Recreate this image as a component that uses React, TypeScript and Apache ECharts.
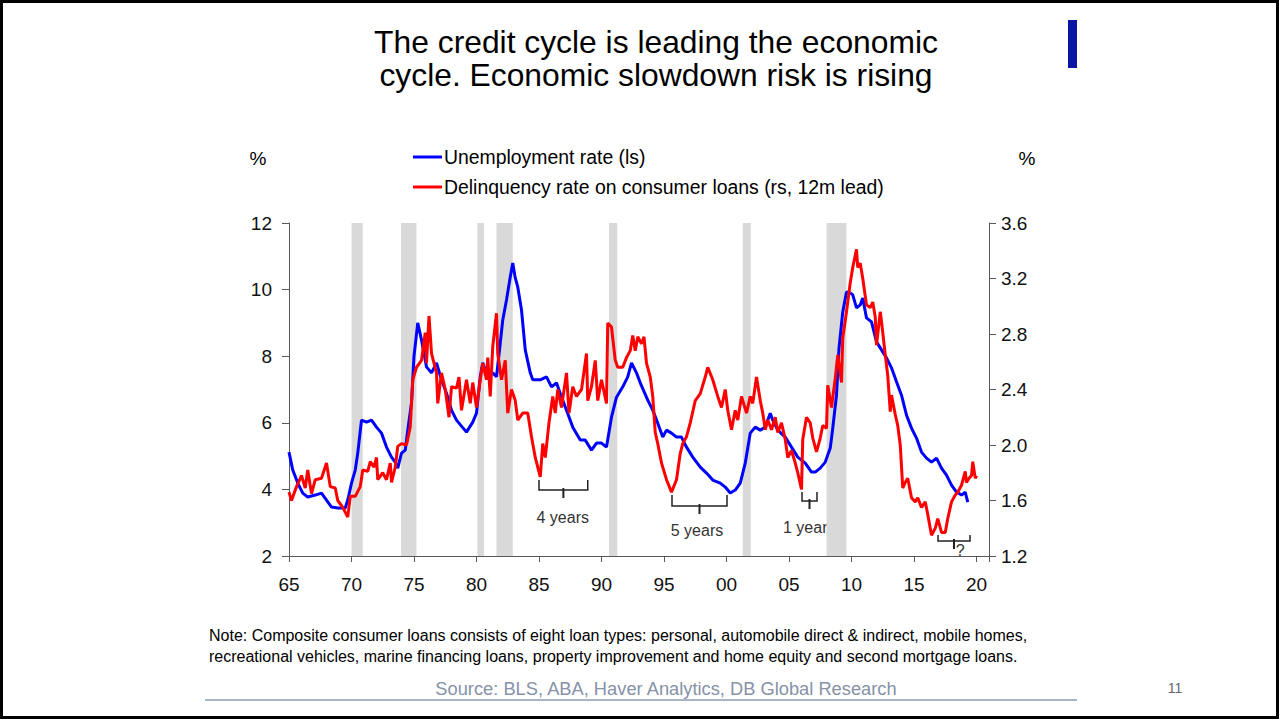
import React, { useEffect, useRef } from "react";
import * as echarts from "echarts";

const FONT = "'Liberation Sans', Arial, Helvetica, sans-serif";

// Unemployment rate (left scale, %)
const unemploymentYears = [
  1965.0, 1965.3, 1965.7, 1966.1, 1966.5, 1967.1, 1967.6, 1968.0, 1968.4, 1968.9, 1969.5, 1969.7,
  1970.0, 1970.3, 1970.5, 1970.8, 1971.2, 1971.6, 1972.0, 1972.4, 1972.8, 1973.2, 1973.5, 1973.7,
  1974.0, 1974.3, 1974.5, 1974.8, 1975.0, 1975.3, 1975.6, 1976.0, 1976.4, 1976.8, 1977.2, 1977.6,
  1978.0, 1978.4, 1978.8, 1979.2, 1979.7, 1980.0, 1980.3, 1980.5, 1980.9, 1981.3, 1981.6, 1981.9,
  1982.1, 1982.4, 1982.7, 1982.9, 1983.1, 1983.3, 1983.6, 1983.9, 1984.3, 1984.5, 1985.1, 1985.6,
  1986.0, 1986.4, 1986.8, 1987.2, 1987.7, 1988.3, 1988.7, 1989.2, 1989.6, 1990.0, 1990.4, 1990.8,
  1991.2, 1991.7, 1992.1, 1992.4, 1992.8, 1993.1, 1993.7, 1994.1, 1994.5, 1994.9, 1995.2, 1995.6,
  1996.0, 1996.4, 1996.8, 1997.3, 1997.9, 1998.4, 1998.9, 1999.5, 1999.9, 2000.3, 2000.7, 2001.1,
  2001.5, 2001.9, 2002.3, 2002.7, 2003.1, 2003.5, 2003.7, 2004.1, 2004.7, 2005.2, 2005.7, 2006.3,
  2006.8, 2007.1, 2007.5, 2007.9, 2008.3, 2008.5, 2008.8, 2009.0, 2009.3, 2009.6, 2009.9, 2010.1,
  2010.4, 2010.7, 2010.9, 2011.2, 2011.6, 2012.0, 2012.4, 2012.8, 2013.2, 2013.6, 2014.0, 2014.4,
  2014.8, 2015.2, 2015.6, 2016.0, 2016.4, 2016.8, 2017.2, 2017.6, 2018.0, 2018.4, 2018.8, 2019.1,
  2019.3,
];
const unemploymentRates = [
  5.12, 4.58, 4.19, 3.89, 3.77, 3.83, 3.89, 3.68, 3.47, 3.44, 3.44, 3.68,
  4.19, 4.58, 5.09, 6.08, 6.02, 6.08, 5.87, 5.69, 5.27, 4.97, 4.82, 4.64,
  5.09, 5.18, 5.78, 6.6, 8.0, 9.0, 8.49, 7.68, 7.5, 7.8, 7.29, 6.89,
  6.38, 6.08, 5.9, 5.72, 6.02, 6.29, 7.38, 7.8, 7.38, 7.5, 7.38, 8.39,
  9.09, 9.69, 10.38, 10.8, 10.35, 10.08, 9.39, 8.19, 7.5, 7.29, 7.29, 7.38,
  7.08, 7.2, 6.77, 6.38, 5.87, 5.48, 5.48, 5.18, 5.39, 5.39, 5.27, 6.17,
  6.77, 7.08, 7.38, 7.8, 7.5, 7.2, 6.68, 6.38, 5.99, 5.57, 5.78, 5.69,
  5.57, 5.57, 5.27, 4.97, 4.67, 4.49, 4.28, 4.19, 4.07, 3.89, 3.98, 4.19,
  4.79, 5.69, 5.87, 5.78, 5.87, 6.29, 6.08, 5.78, 5.57, 5.27, 4.97, 4.79,
  4.52, 4.52, 4.64, 4.82, 5.24, 5.84, 6.83, 8.24, 9.33, 9.93, 9.9, 9.84,
  9.45, 9.54, 9.75, 9.15, 9.03, 8.43, 8.19, 7.95, 7.65, 7.23, 6.83, 6.23,
  5.84, 5.54, 5.12, 4.94, 4.82, 4.94, 4.64, 4.43, 4.13, 3.92, 3.83, 3.92,
  3.62,
];

// Delinquency rate on consumer loans (right scale, %, 12m lead)
const delinquencyYears = [
  1965.0, 1965.2, 1965.6, 1966.0, 1966.3, 1966.5, 1966.8, 1967.1, 1967.6, 1968.0, 1968.3, 1968.7,
  1968.9, 1969.3, 1969.7, 1969.9, 1970.3, 1970.7, 1970.9, 1971.3, 1971.5, 1971.8, 1972.0, 1972.1,
  1972.5, 1972.8, 1973.1, 1973.2, 1973.5, 1973.7, 1974.0, 1974.4, 1974.7, 1974.9, 1975.2, 1975.6,
  1975.9, 1976.0, 1976.2, 1976.4, 1976.8, 1976.9, 1977.2, 1977.5, 1977.8, 1978.0, 1978.4, 1978.6,
  1978.8, 1979.2, 1979.5, 1979.7, 1980.0, 1980.3, 1980.5, 1980.8, 1980.9, 1981.1, 1981.3, 1981.6,
  1981.7, 1982.0, 1982.3, 1982.5, 1982.8, 1983.1, 1983.3, 1983.7, 1984.1, 1984.4, 1984.7, 1985.1,
  1985.3, 1985.5, 1985.8, 1986.1, 1986.3, 1986.5, 1986.8, 1987.2, 1987.4, 1987.7, 1988.0, 1988.4,
  1988.8, 1988.9, 1989.2, 1989.5, 1989.7, 1990.0, 1990.4, 1990.5, 1990.8, 1991.1, 1991.3, 1991.7,
  1992.0, 1992.3, 1992.5, 1992.7, 1992.9, 1993.2, 1993.4, 1993.6, 1993.9, 1994.1, 1994.3, 1994.5,
  1994.8, 1995.2, 1995.6, 1996.0, 1996.3, 1996.5, 1996.8, 1997.1, 1997.5, 1997.9, 1998.3, 1998.5,
  1998.9, 1999.3, 1999.6, 1999.9, 2000.1, 2000.4, 2000.7, 2000.9, 2001.2, 2001.6, 2001.9, 2002.1,
  2002.4, 2002.7, 2002.9, 2003.1, 2003.3, 2003.6, 2003.9, 2004.1, 2004.4, 2004.7, 2004.9, 2005.2,
  2005.5, 2005.7, 2006.0, 2006.1, 2006.4, 2006.7, 2006.9, 2007.2, 2007.5, 2007.7, 2008.0, 2008.1,
  2008.4, 2008.7, 2008.9, 2009.2, 2009.3, 2009.6, 2009.9, 2010.1, 2010.4, 2010.5, 2010.7, 2010.9,
  2011.2, 2011.5, 2011.7, 2011.9, 2012.0, 2012.3, 2012.4, 2012.7, 2012.9, 2013.1, 2013.2, 2013.5,
  2013.7, 2013.9, 2014.1, 2014.3, 2014.5, 2014.8, 2015.1, 2015.3, 2015.6, 2015.9, 2016.1, 2016.4,
  2016.7, 2016.9, 2017.2, 2017.5, 2017.7, 2018.0, 2018.3, 2018.5, 2018.8, 2019.1, 2019.2, 2019.4,
  2019.6, 2019.7, 2019.9, 2020.0,
];
const delinquencyRates = [
  1.66, 1.6, 1.7, 1.78, 1.69, 1.82, 1.65, 1.75, 1.76, 1.87, 1.7, 1.69,
  1.6, 1.55, 1.48, 1.63, 1.63, 1.7, 1.82, 1.81, 1.88, 1.84, 1.91, 1.75,
  1.8, 1.75, 1.87, 1.73, 1.84, 1.99, 2.01, 2.0, 2.13, 2.47, 2.56, 2.61,
  2.81, 2.59, 2.93, 2.66, 2.52, 2.3, 2.52, 2.4, 2.2, 2.42, 2.41, 2.49,
  2.25, 2.47, 2.3, 2.45, 2.27, 2.47, 2.59, 2.47, 2.63, 2.35, 2.71, 2.95,
  2.66, 2.47, 2.61, 2.23, 2.4, 2.32, 2.18, 2.23, 2.23, 2.06, 1.91, 1.77,
  2.01, 1.91, 2.16, 2.35, 2.23, 2.4, 2.27, 2.52, 2.23, 2.42, 2.35, 2.4,
  2.66, 2.32, 2.42, 2.61, 2.32, 2.47, 2.3, 2.88, 2.85, 2.61, 2.56, 2.56,
  2.63, 2.68, 2.79, 2.68, 2.78, 2.73, 2.78, 2.59, 2.49, 2.35, 2.09, 2.01,
  1.87, 1.75, 1.66, 1.75, 1.94, 2.01, 2.06, 2.16, 2.32, 2.37, 2.49, 2.56,
  2.47, 2.35, 2.27, 2.4, 2.25, 2.11, 2.25, 2.18, 2.35, 2.23, 2.35, 2.3,
  2.49, 2.32, 2.23, 2.11, 2.18, 2.11, 2.2, 2.09, 2.16, 2.04, 1.91, 1.96,
  1.87, 1.8, 1.68, 2.04, 2.2, 2.16, 2.05, 1.95, 2.05, 2.14, 2.12, 2.43,
  2.27, 2.48, 2.65, 2.45, 2.77, 2.96, 3.17, 3.28, 3.41, 3.28, 3.31, 3.2,
  3.01, 2.99, 3.03, 2.92, 2.72, 2.96, 2.89, 2.65, 2.5, 2.24, 2.36, 2.22,
  2.14, 2.0, 1.69, 1.73, 1.76, 1.62, 1.59, 1.62, 1.55, 1.59, 1.5, 1.35,
  1.4, 1.47, 1.37, 1.37, 1.47, 1.59, 1.64, 1.66, 1.71, 1.81, 1.73, 1.76,
  1.78, 1.88, 1.76, 1.78,
];

// Recessions (shaded)
const recessionStarts = [1970.0, 1973.96, 1980.07, 1981.6, 1990.6, 2001.3, 2008.0];
const recessionEnds = [1970.9, 1975.2, 1980.6, 1982.9, 1991.26, 2001.94, 2009.6];

// Lag annotations
const bracketLabels = ["4 years", "5 years", "1 year", "?"];
const bracketFrom = [1985.0, 1995.64, 2006.04, 2016.92];
const bracketTo = [1988.9, 2000.04, 2007.24, 2019.48];
const bracketTop = [4.28, 3.83, 3.92, 2.63];
const bracketBottom = [3.98, 3.5, 3.65, 2.45];
const bracketTipX = [1986.95, 1997.84, 2006.64, 2018.2];
const labelX = [1986.9, 1997.64, 2006.3, 2018.7];
const labelY = [3.17, 2.78, 2.87, 2.18];

const xMin = 1965;
const xMax = 2021;
const leftTicks = { min: 2, max: 12, interval: 2 };
const rightTicks = { min: 1.2, max: 3.6, interval: 0.4 };

const titleLines = ["The credit cycle is leading the economic", "cycle. Economic slowdown risk is rising"];
const legendNames = ["Unemployment rate (ls)", "Delinquency rate on consumer loans (rs, 12m lead)"];
const noteLines = [
  "Note: Composite consumer loans consists of eight loan types: personal, automobile direct & indirect, mobile homes,",
  "recreational vehicles, marine financing loans, property improvement and home equity and second mortgage loans.",
];
const sourceText = "Source: BLS, ABA, Haver Analytics, DB Global Research";
const pageNumber = "11";

const BLUE = "#0000ff";
const RED = "#ff0000";
const AXIS = "#595959";

export default function App() {
  const ref = useRef<HTMLDivElement>(null);

  useEffect(() => {
    if (!ref.current) return;
    const chart = echarts.init(ref.current, undefined, { renderer: "svg" });

    const blueData = unemploymentYears.map((y, i) => [y, unemploymentRates[i]]);
    const redData = delinquencyYears.map((y, i) => [y, delinquencyRates[i]]);
    const recessions = recessionStarts.map((s, i) => [{ xAxis: s }, { xAxis: recessionEnds[i] }]);

    chart.setOption({
      animation: false,
      backgroundColor: "#ffffff",
      textStyle: { fontFamily: FONT },
      grid: { left: 289, right: 290, top: 223, bottom: 163, containLabel: false },
      xAxis: {
        type: "value",
        min: xMin,
        max: xMax,
        interval: 5,
        axisLine: { show: true, lineStyle: { color: AXIS, width: 1 } },
        axisTick: { show: true, inside: false, length: 6, lineStyle: { color: AXIS } },
        axisLabel: {
          fontSize: 19,
          color: "#111",
          fontFamily: FONT,
          margin: 19,
          formatter: (v: number) => (Math.round(v) % 5 === 0 ? String(Math.round(v) % 100).padStart(2, "0") : ""),
        },
        splitLine: { show: false },
      },
      yAxis: [
        {
          type: "value",
          position: "left",
          min: leftTicks.min,
          max: leftTicks.max,
          interval: leftTicks.interval,
          axisLine: { show: true, lineStyle: { color: AXIS, width: 1 } },
          axisTick: { show: true, inside: false, length: 7, lineStyle: { color: AXIS } },
          axisLabel: { fontSize: 19, color: "#111", fontFamily: FONT, margin: 17 },
          splitLine: { show: false },
        },
        {
          type: "value",
          position: "right",
          min: rightTicks.min,
          max: rightTicks.max,
          interval: rightTicks.interval,
          axisLine: { show: true, lineStyle: { color: AXIS, width: 1 } },
          axisTick: { show: true, inside: false, length: 7, lineStyle: { color: AXIS } },
          axisLabel: {
            fontSize: 19,
            color: "#111",
            fontFamily: FONT,
            margin: 12,
            formatter: (v: number) => v.toFixed(1),
          },
          splitLine: { show: false },
        },
      ],
      series: [
        {
          name: legendNames[0],
          type: "line",
          yAxisIndex: 0,
          data: blueData,
          showSymbol: false,
          symbol: "none",
          lineStyle: { color: BLUE, width: 3 },
          itemStyle: { color: BLUE },
          z: 3,
          markArea: {
            silent: true,
            itemStyle: { color: "#d9d9d9" },
            data: recessions,
          },
        },
        {
          name: legendNames[1],
          type: "line",
          yAxisIndex: 1,
          data: redData,
          showSymbol: false,
          symbol: "none",
          lineStyle: { color: RED, width: 3 },
          itemStyle: { color: RED },
          z: 4,
        },
      ],
    });

    const px = (x: number, y: number) =>
      chart.convertToPixel({ xAxisIndex: 0, yAxisIndex: 0 }, [x, y]) as number[];

    const graphics: any[] = [];

    // page frame
    graphics.push({
      type: "rect",
      shape: { x: 1.5, y: 1.5, width: 1276, height: 716 },
      style: { fill: "none", stroke: "#000", lineWidth: 3 },
      silent: true,
      z: 100,
    });
    // blue slide marker
    graphics.push({
      type: "rect",
      shape: { x: 1068, y: 20, width: 9, height: 48 },
      style: { fill: "#0a16a3" },
      silent: true,
    });
    // title
    titleLines.forEach((t, i) => {
      graphics.push({
        type: "text",
        x: 656,
        y: 42 + i * 33,
        style: { text: t, fill: "#000", font: `31.8px ${FONT}`, align: "center", verticalAlign: "middle" },
      });
    });
    // unit labels
    graphics.push({
      type: "text",
      x: 258,
      y: 158,
      style: { text: "%", fill: "#000", font: `19px ${FONT}`, align: "center", verticalAlign: "middle" },
    });
    graphics.push({
      type: "text",
      x: 1027,
      y: 158,
      style: { text: "%", fill: "#000", font: `19px ${FONT}`, align: "center", verticalAlign: "middle" },
    });
    // legend
    [BLUE, RED].forEach((c, i) => {
      const y = 157 + i * 30;
      graphics.push({
        type: "line",
        shape: { x1: 413, y1: y, x2: 442, y2: y },
        style: { stroke: c, lineWidth: 3 },
      });
      graphics.push({
        type: "text",
        x: 444,
        y: y,
        style: { text: legendNames[i], fill: "#000", font: `19.4px ${FONT}`, align: "left", verticalAlign: "middle" },
      });
    });
    // brackets
    bracketLabels.forEach((lab, i) => {
      const [x1, yt] = px(bracketFrom[i], bracketTop[i]);
      const [x2, yb] = px(bracketTo[i], bracketBottom[i]);
      const [xc] = px(bracketTipX[i], bracketBottom[i]);
      graphics.push({
        type: "polyline",
        shape: { points: [[x1, yt], [x1, yb], [x2, yb], [x2, yt]] },
        style: { stroke: "#222", lineWidth: 1.5, fill: "none" },
      });
      graphics.push({
        type: "line",
        shape: { x1: xc, y1: yb - 2, x2: xc, y2: yb + 8 },
        style: { stroke: "#222", lineWidth: 2 },
      });
      const [lx, ly] = px(labelX[i], labelY[i]);
      graphics.push({
        type: "text",
        x: lx,
        y: ly,
        style: { text: lab, fill: "#333", font: `16px ${FONT}`, align: "center", verticalAlign: "middle" },
      });
    });
    // note
    noteLines.forEach((t, i) => {
      graphics.push({
        type: "text",
        x: 209,
        y: 635 + i * 21,
        style: { text: t, fill: "#000", font: `16px ${FONT}`, align: "left", verticalAlign: "middle" },
      });
    });
    // source
    graphics.push({
      type: "text",
      x: 666,
      y: 688,
      style: { text: sourceText, fill: "#8592a8", font: `18.3px ${FONT}`, align: "center", verticalAlign: "middle" },
    });
    graphics.push({
      type: "line",
      shape: { x1: 205, y1: 700, x2: 1077, y2: 700 },
      style: { stroke: "#8c9cb4", lineWidth: 1.5 },
    });
    graphics.push({
      type: "text",
      x: 1175,
      y: 688,
      style: { text: pageNumber, fill: "#666", font: `14px ${FONT}`, align: "center", verticalAlign: "middle" },
    });

    chart.setOption({ graphic: graphics });

    return () => {
      chart.dispose();
    };
  }, []);

  return (
    <div
      ref={ref}
      style={{ position: "fixed", left: 0, top: 0, width: 1279, height: 719, background: "#fff" }}
    />
  );
}
